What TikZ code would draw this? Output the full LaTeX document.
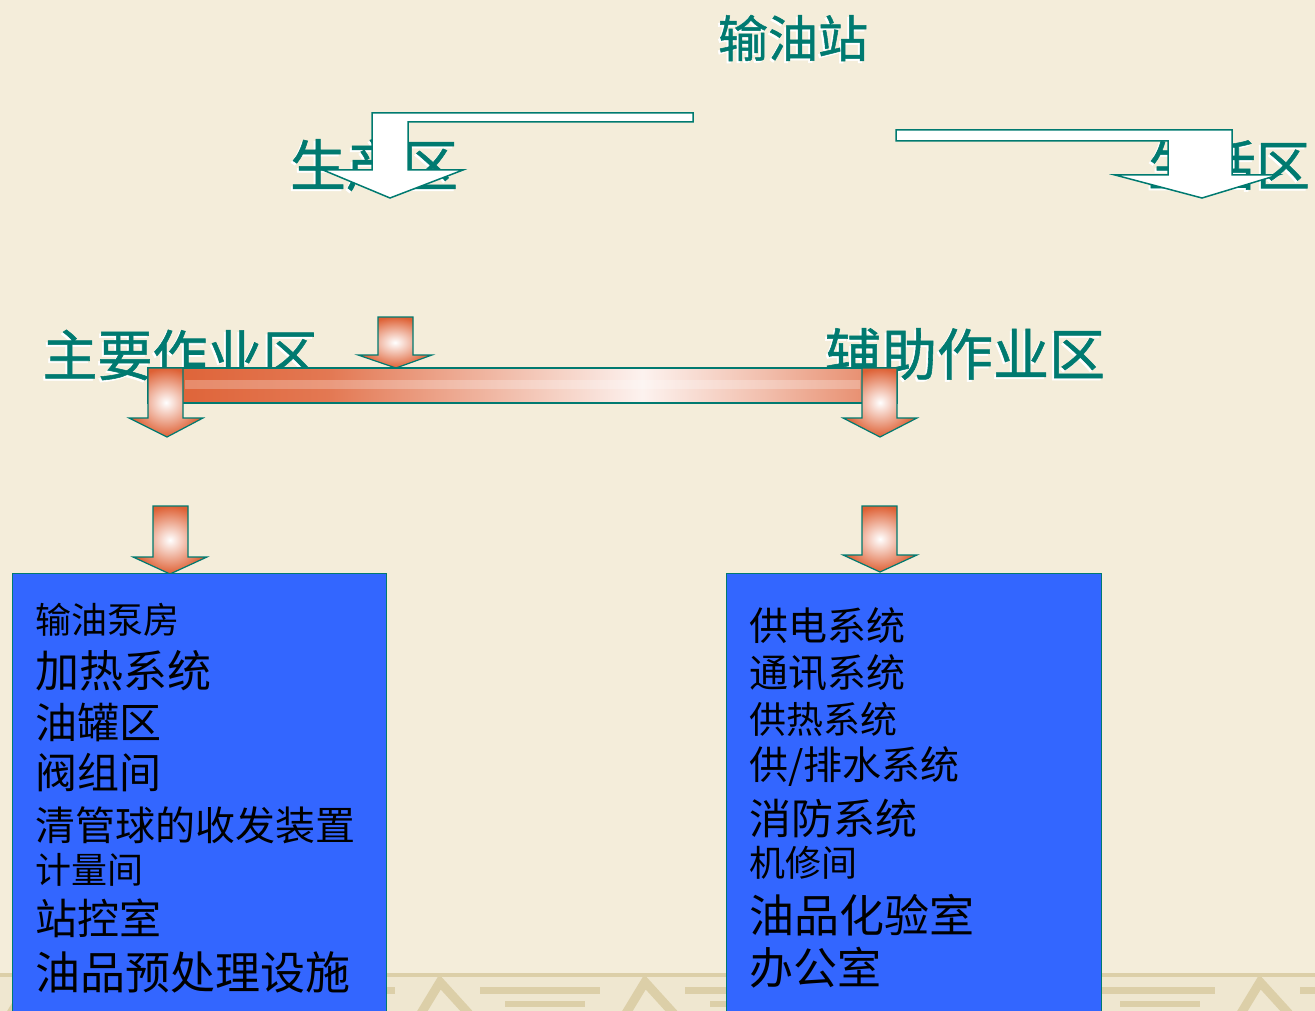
\documentclass[tikz,border=0pt]{standalone}
\usepackage{fontspec}
\newfontfamily\cjk{Noto Sans CJK SC}
\newfontfamily\cjkh[FakeBold=1]{Noto Sans CJK SC}
\definecolor{bg}{RGB}{244,237,218}
\definecolor{tealc}{RGB}{0,122,112}
\definecolor{boxblue}{RGB}{51,102,255}
\definecolor{arrred}{RGB}{222,96,52}
\definecolor{bandtan}{RGB}{220,207,168}
\definecolor{bandlight}{RGB}{239,231,208}
\pgfdeclarehorizontalshading{barshade}{100bp}{color(0bp)=(arrred); color(25bp)=(arrred); color(37bp)=(arrred!85!white); color(48bp)=(arrred!45!white); color(58bp)=(white!92!arrred); color(66bp)=(arrred!40!white); color(75bp)=(arrred!80!white); color(100bp)=(arrred!80!white)}
\begin{document}
\begin{tikzpicture}[x=1pt,y=-1pt,
  hd/.style={inner sep=0pt,font=\cjkh,text=tealc},
  hdsh/.style={inner sep=0pt,font=\cjkh,text=white},
  itm/.style={anchor=west,inner sep=0pt,font=\cjk,text=black},
  whitearrow/.style={draw=tealc,line width=1.5pt,fill=white,line join=miter},
  redarrow/.style={draw=tealc,line width=1.2pt,inner color=white,outer color=arrred},
  bluebox/.style={draw=tealc,line width=1pt,fill=boxblue}]
\useasboundingbox (0,0) rectangle (1315,1011);
\fill[bg] (0,0) rectangle (1315,1011);
% bottom decorative band
\fill[bandlight] (0,973) rectangle (1315,1011);
\fill[bandtan] (0,973) rectangle (1315,977);
\foreach \px in {0,205,410,615,820,1025,1230} {
  \draw[bandtan,line width=9pt,line cap=butt] (\px+10,1015) -- (\px+30,982) -- (\px+60,1015);
  \draw[bandtan,line width=7pt] (\px+70,990) -- (\px+190,990);
  \draw[bandtan,line width=6pt] (\px+95,1004) -- (\px+175,1004);
}
% level 0 heading
\node[hdsh] (t0s) at (791,40) {\fontsize{50}{50}\selectfont 输油站};
\node[hd] (t0) at (793,38) {\fontsize{50}{50}\selectfont 输油站};
% level 1 headings
\node[hdsh] (t1s) at (372,167) {\fontsize{56}{56}\selectfont 生产区};
\node[hd] (t1) at (374,165) {\fontsize{56}{56}\selectfont 生产区};
\node[hdsh] (t2s) at (1227,167) {\fontsize{54}{54}\selectfont 生活区};
\node[hd] (t2) at (1229,165) {\fontsize{54}{54}\selectfont 生活区};
% bent white arrows
\draw[whitearrow] (693,113) -- (372,113) -- (372,170) -- (323,170) -- (390,198) -- (463,170) -- (408,170) -- (408,122) -- (693,122) -- cycle;
\draw[whitearrow] (896,130) -- (1232,130) -- (1232,175) -- (1278,175) -- (1202,198) -- (1115,175) -- (1168,175) -- (1168,141) -- (896,141) -- cycle;
% level 2 headings
\node[hdsh] (t3s) at (178,357) {\fontsize{55}{55}\selectfont 主要作业区};
\node[hd] (t3) at (180,355) {\fontsize{55}{55}\selectfont 主要作业区};
\node[hdsh] (t4s) at (963,356) {\fontsize{56}{56}\selectfont 辅助作业区};
\node[hd] (t4) at (965,354) {\fontsize{56}{56}\selectfont 辅助作业区};
% small red arrow from 生产区
\draw[redarrow] (378,317) -- (413,317) -- (413,355) -- (432,355) -- (396,368) -- (358,355) -- (378,355) -- cycle;
% horizontal bar
\draw[draw=tealc,line width=1.2pt,shading=barshade,shading angle=0] (148,368) rectangle (897,403);
\fill[white,opacity=0.25] (185,380) rectangle (860,389);
% down arrows from bar
\draw[redarrow] (148,368) -- (183,368) -- (183,418) -- (203,418) -- (167,437) -- (129,418) -- (148,418) -- cycle;
\draw[redarrow] (862,368) -- (897,368) -- (897,418) -- (917,418) -- (880,437) -- (843,418) -- (862,418) -- cycle;
% lower arrows into boxes
\draw[redarrow] (153,506) -- (188,506) -- (188,557) -- (207,557) -- (170,574) -- (133,557) -- (153,557) -- cycle;
\draw[redarrow] (862,506) -- (897,506) -- (897,555) -- (917,555) -- (880,572) -- (843,555) -- (862,555) -- cycle;
% boxes
\draw[bluebox] (12,573) rectangle (386,1013);
\draw[bluebox] (726,573) rectangle (1101,1013);
% left list
\node[itm] (l1) at (35,620) {\fontsize{36}{36}\selectfont 输油泵房};
\node[itm] (l2) at (35,671) {\fontsize{44}{44}\selectfont 加热系统};
\node[itm] (l3) at (35,722) {\fontsize{42}{42}\selectfont 油罐区};
\node[itm] (l4) at (35,773) {\fontsize{42}{42}\selectfont 阀组间};
\node[itm] (l5) at (35,825) {\fontsize{40}{40}\selectfont 清管球的收发装置};
\node[itm] (l6) at (35,870) {\fontsize{36}{36}\selectfont 计量间};
\node[itm] (l7) at (35,918) {\fontsize{42}{42}\selectfont 站控室};
\node[itm] (l8) at (35,972) {\fontsize{45}{45}\selectfont 油品预处理设施};
% right list
\node[itm] (r1) at (749,626) {\fontsize{39}{39}\selectfont 供电系统};
\node[itm] (r2) at (749,673) {\fontsize{39}{39}\selectfont 通讯系统};
\node[itm] (r3) at (749,719) {\fontsize{37}{37}\selectfont 供热系统};
\node[itm] (r4) at (749,767) {\fontsize{39}{39}\selectfont 供/排水系统};
\node[itm] (r5) at (749,818) {\fontsize{42}{42}\selectfont 消防系统};
\node[itm] (r6) at (749,863) {\fontsize{36}{36}\selectfont 机修间};
\node[itm] (r7) at (749,915) {\fontsize{45}{45}\selectfont 油品化验室};
\node[itm] (r8) at (749,968) {\fontsize{44}{44}\selectfont 办公室};
\end{tikzpicture}
\end{document}
